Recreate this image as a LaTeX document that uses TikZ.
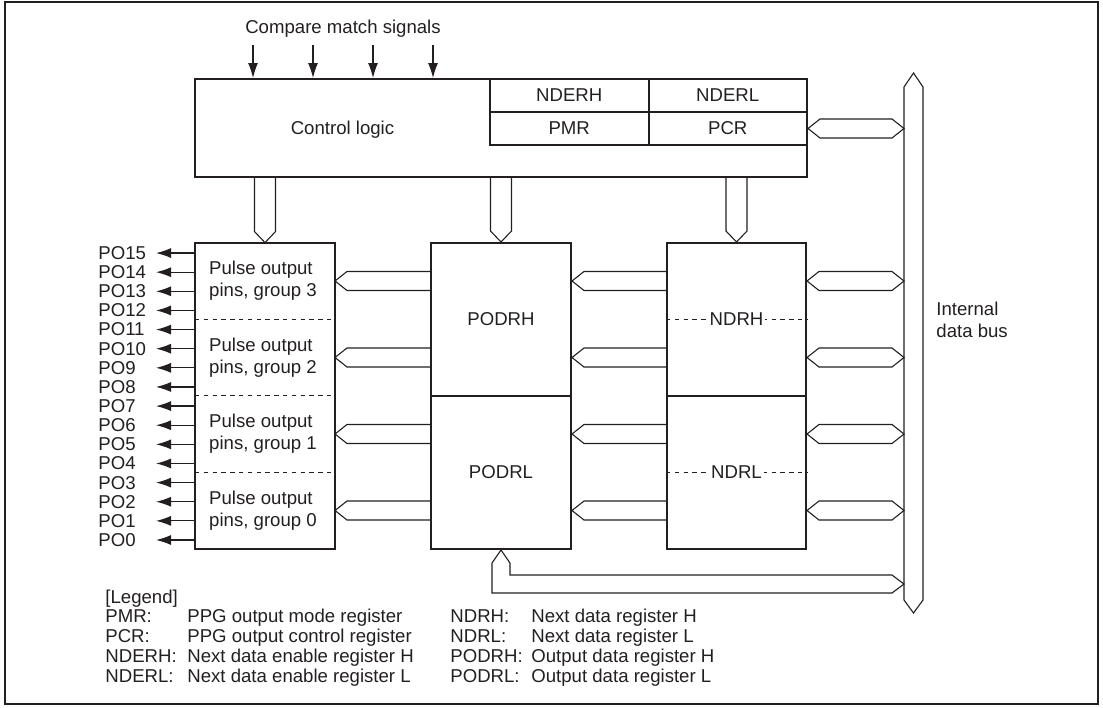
\documentclass[tikz,border=0pt]{standalone}
\usepackage{fontspec}
\setmainfont{Liberation Sans}
\usetikzlibrary{arrows.meta, calc}
\definecolor{ink}{HTML}{231F20}

% hollow bus arrows (tip at #1, plain end or tip at #2)
\newcommand{\hbusboth}[2]{%
  \draw[bus] let \p1=#1, \p2=#2 in
    (\x1,\y1) -- (\x1+6pt,\y1+4.75pt) -- (\x2-6pt,\y1+4.75pt) -- (\x2,\y1)
    -- (\x2-6pt,\y1-4.75pt) -- (\x1+6pt,\y1-4.75pt) -- cycle;}
\newcommand{\hbusleft}[2]{%
  \draw[bus] let \p1=#1, \p2=#2 in
    (\x2,\y1+4.75pt) -- (\x1+6pt,\y1+4.75pt) -- (\x1,\y1)
    -- (\x1+6pt,\y1-4.75pt) -- (\x2,\y1-4.75pt);}
\newcommand{\vbusdown}[2]{%
  \draw[bus] let \p1=#1, \p2=#2 in
    (\x1-5.25pt,\y1) -- (\x1-5.25pt,\y2+5.5pt) -- (\x2,\y2)
    -- (\x1+5.25pt,\y2+5.5pt) -- (\x1+5.25pt,\y1);}

\begin{document}
\begin{tikzpicture}[x=0.5pt, y=-0.5pt, color=ink,
  every node/.style={font=\fontsize{9.3}{11}\selectfont, text=ink},
  box/.style={draw, line width=1pt, inner sep=0pt},
  bus/.style={draw, line width=0.55pt, line join=miter},
  divider/.style={line width=0.55pt, dash pattern=on 2.2pt off 2.2pt},
  sig/.style={-{Latex[length=7.5pt,width=5pt]}, line width=0.6pt},
  legtxt/.style={anchor=base west, inner sep=0pt}]
  \useasboundingbox (0,0) rectangle (1103,707);
  \draw[line width=1pt] (5,2) rectangle (1098,704);

  % control logic and its registers
  \node[box, minimum width=306pt, minimum height=49pt] (ctrl) at (501,128) {};
  \node (ctrltxt) at (342.5,130) {Control logic};
  \foreach \nm/\lab/\xc/\yc in {nderh/NDERH/569.25/95.5, nderl/NDERL/727.75/95.5,
                              pmr/PMR/569.25/128.5, pcr/PCR/727.75/128.5}
    \node[box, minimum width=79.25pt, minimum height=16.5pt] (\nm) at (\xc,\yc) {\lab};

  % compare match inputs
  \node (cms) at (343,29) {Compare match signals};
  \foreach \i/\xc in {1/253, 2/313, 3/373, 4/433}{
    \coordinate (cm\i) at (\xc,45);
    \draw[sig] (cm\i) -- (cm\i |- ctrl.north);
  }

  % pulse output groups
  \foreach \g/\yc in {3/281, 2/357.5, 1/434, 0/510.5}
    \node[minimum width=70pt, minimum height=38pt, align=left, inner sep=0pt] (grp\g) at (263,\yc)
      {Pulse output\\pins, group \g};
  \draw[box] (grp3.north west -| 195,0) rectangle (grp0.south east -| 335,0);
  \foreach \g in {3,2,1}
    \draw[divider] (195,0 |- grp\g.south) -- (335,0 |- grp\g.south);

  % output pins
  \foreach \k in {0,...,15}{
    \pgfmathsetmacro\py{540-19.13*\k}
    \node[anchor=west, inner sep=0pt] (po\k) at (98,\py) {PO\k};
    \coordinate (pin\k) at (156,\py);
    \draw[sig] (195,\py) -- (pin\k);
  }

  % output data and next data registers
  \node[box, minimum width=70pt, minimum height=76.5pt] (podrh) at (501,319.5) {PODRH};
  \node[box, minimum width=70pt, minimum height=76.5pt] (podrl) at (501,472.5) {PODRL};
  \node[box, minimum width=69.5pt, minimum height=76.5pt] (ndrh) at (736.5,319.5) {};
  \node[box, minimum width=69.5pt, minimum height=76.5pt] (ndrl) at (736.5,472.5) {};
  \draw[divider] (ndrh.west) -- (ndrh.east);
  \draw[divider] (ndrl.west) -- (ndrl.east);
  \node[fill=white, inner xsep=1pt, inner ysep=0pt] (ndrhtxt) at (ndrh) {NDRH};
  \node[fill=white, inner xsep=1pt, inner ysep=0pt] (ndrltxt) at (ndrl) {NDRL};

  % internal data bus
  \draw[bus] (904,87) -- (913.5,73) -- (923,87) -- (923,600) -- (913.5,613) -- (904,600) -- cycle;
  \coordinate (dbw) at (904,343);
  \coordinate (loopin) at (904,584);
  \node[anchor=west, align=left, inner sep=0pt] (dblabel) at (936,320) {Internal\\data bus};

  % bus transfers
  \hbusboth{(pcr.east)}{(dbw |- pcr.east)}
  \foreach \g/\rg/\pd in {3/ndrh/podrh, 2/ndrh/podrh, 1/ndrl/podrl, 0/ndrl/podrl}{
    \hbusboth{(\rg.east |- grp\g)}{(dbw |- grp\g)}
    \hbusleft{(\pd.east |- grp\g)}{(\rg.west |- grp\g)}
    \hbusleft{(335,0 |- grp\g)}{(\pd.west |- grp\g)}
  }
  \foreach \nd/\xc in {grp3/265, podrh/501, ndrh/736.5}{
    \vbusdown{(\xc,0 |- ctrl.south)}{(\xc,0 |- \nd.north)}
  }
  \draw[bus] let \p1=(podrl.south), \p2=(loopin) in
    (\x1,\y1) -- (\x1+4.5pt,\y1-6.5pt) -- (\x1+4.5pt,\y2+4.5pt) -- (\x2-6pt,\y2+4.5pt)
    -- (\x2,\y2) -- (\x2-6pt,\y2-4.5pt) -- (\x1-4.5pt,\y2-4.5pt) -- (\x1-4.5pt,\y1-6.5pt) -- cycle;

  % legend
  \node[legtxt] (leg) at (105,603) {[Legend]};
  \foreach \lab/\txt [count=\i] in {PMR:/PPG output mode register, PCR:/PPG output control register,
      NDERH:/Next data enable register H, NDERL:/Next data enable register L}{
    \node[legtxt] (legl\i) at (105,616+19.8*\i-13) {\lab};
    \node[legtxt] (legd\i) at (187,616+19.8*\i-13) {\txt};
  }
  \foreach \lab/\txt [count=\i] in {NDRH:/Next data register H, NDRL:/Next data register L,
      PODRH:/Output data register H, PODRL:/Output data register L}{
    \node[legtxt] (legr\i) at (450,616+19.8*\i-13) {\lab};
    \node[legtxt] (lege\i) at (531,616+19.8*\i-13) {\txt};
  }
\end{tikzpicture}
\end{document}
